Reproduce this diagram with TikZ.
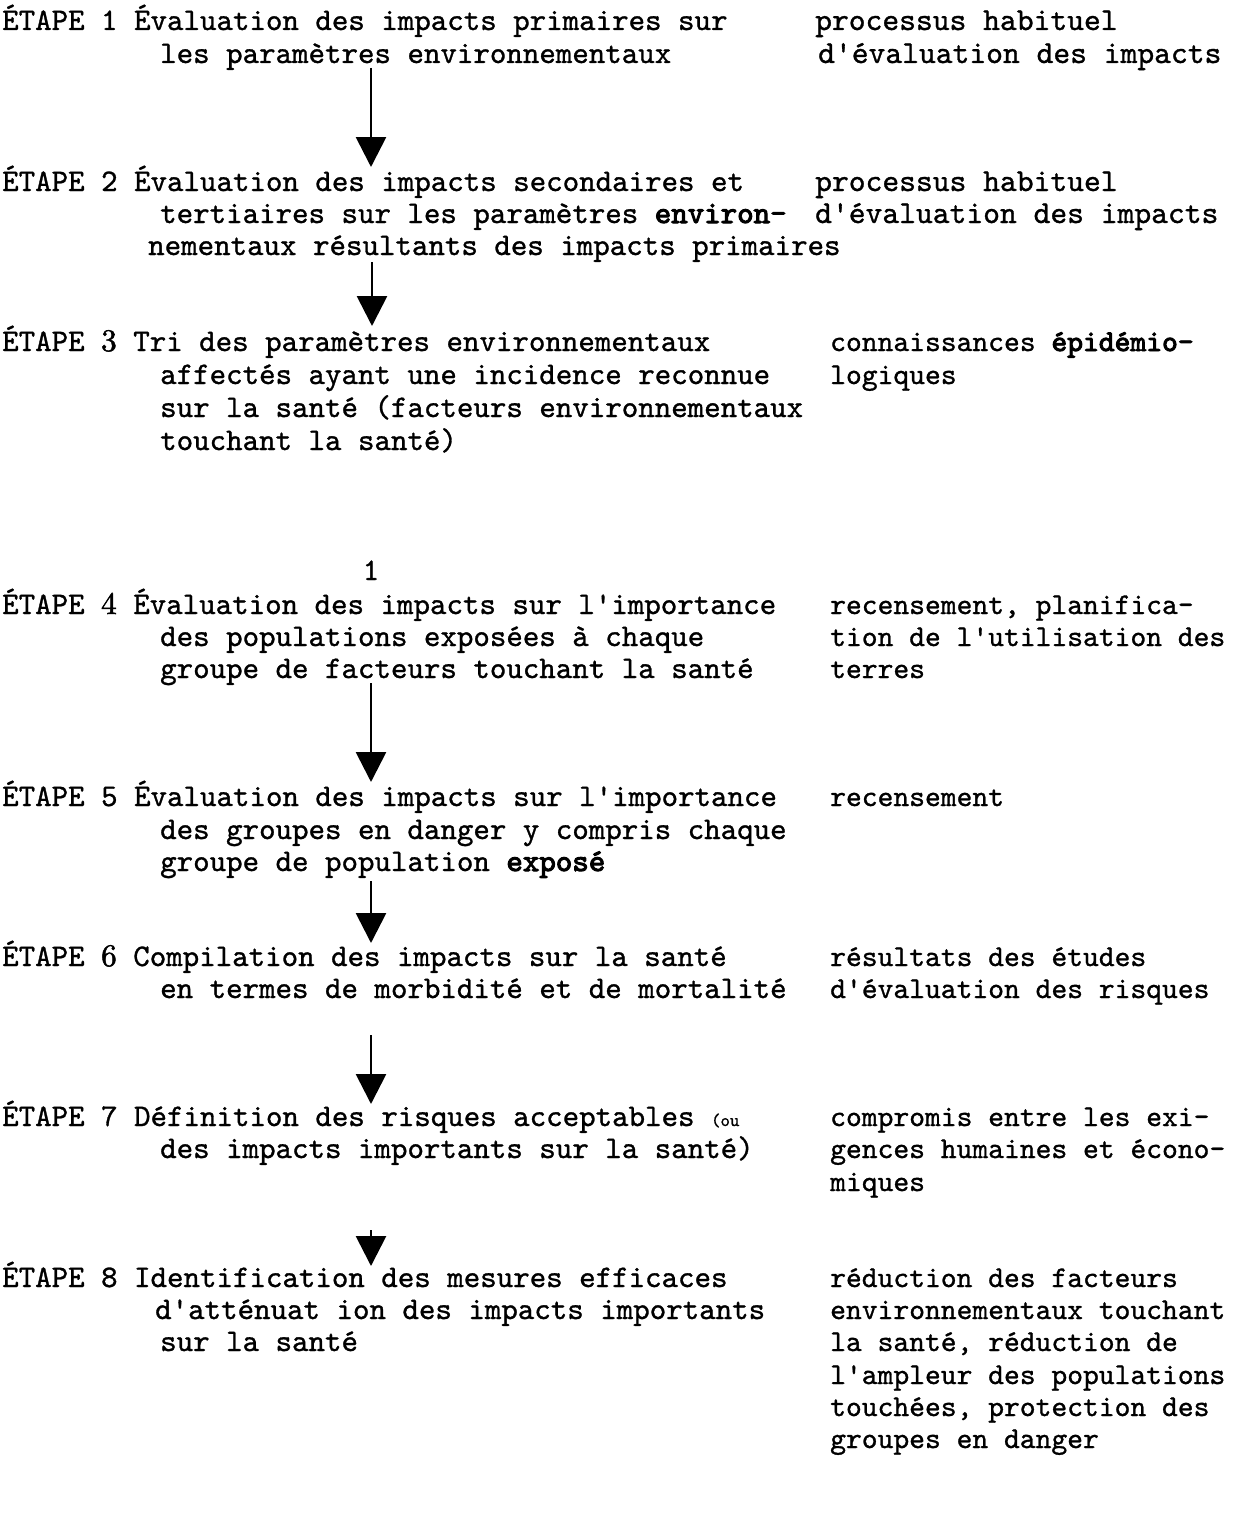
\documentclass[tikz,border=0pt]{standalone}
\usepackage{fontspec}
\usetikzlibrary{arrows.meta}
\newfontfamily\mytt{lmmono10-regular}[Extension=.otf, RawFeature={embolden=1.0}]
\newfontfamily\mybf{lmmono10-regular}[Extension=.otf, RawFeature={embolden=3.2}]
\newfontfamily\myrm{lmroman10-regular}[Extension=.otf, RawFeature={embolden=1.6}]
\tikzset{
  txt/.style={anchor=base west, inner sep=0pt, font=\mytt\fontsize{31.4}{38}\selectfont},
  rtxt/.style={anchor=base west, inner sep=0pt, font=\mytt\fontsize{32}{38}\selectfont},
  rtxtb/.style={anchor=base west, inner sep=0pt, font=\mytt\fontsize{30.1}{38}\selectfont},
  num/.style={anchor=base, inner sep=0pt, font=\mytt\fontsize{31.4}{38}\selectfont},
  flow/.style={line width=2.8pt, -{Triangle[length=30pt,width=30pt]}}
}
\newcommand\mytext[4]{\node[txt] (#1) at (#2,-#3) {#4};}
\newcommand\myright[4]{\node[rtxt] (#1) at (#2,-#3) {#4};}
\newcommand\myrightb[4]{\node[rtxtb] (#1) at (#2,-#3) {#4};}
\newcommand\bw[1]{{\mybf #1}}
\newcommand\dg[1]{{\myrm #1}}
\begin{document}
\begin{tikzpicture}[x=1pt,y=1pt]
\fill[white] (0,0) rectangle (1236,-1520);
\useasboundingbox (0,0) rectangle (1236,-1520);
% Step 1
\mytext{s1a}{2}{30}{ÉTAPE 1 Évaluation des impacts primaires sur}
\mytext{s1b}{160}{63}{les paramètres environnementaux}
\myright{r1a}{815}{30}{processus habituel}
\myright{r1b}{818}{63}{d'évaluation des impacts}
% Step 2
\mytext{s2a}{2}{191}{ÉTAPE 2 Évaluation des impacts secondaires et}
\mytext{s2b}{160}{223}{tertiaires sur les paramètres \bw{environ-}}
\mytext{s2c}{148}{255}{nementaux résultants des impacts primaires}
\myright{r2a}{815}{191}{processus habituel}
\myright{r2b}{815}{223}{d'évaluation des impacts}
% Step 3
\mytext{s3a}{2}{351}{ÉTAPE \dg{3} Tri des paramètres environnementaux}
\mytext{s3b}{160}{384}{affectés ayant une incidence reconnue}
\mytext{s3c}{160}{417}{sur la santé (facteurs environnementaux}
\mytext{s3d}{160}{450}{touchant la santé)}
\myrightb{r3a}{830}{351}{connaissances \bw{épidémio-}}
\myrightb{r3b}{830}{384}{logiques}
\node[num] (one) at (371,-580) {1};
% Step 4
\mytext{s4a}{2}{614}{ÉTAPE \dg{4} Évaluation des impacts sur l'importance}
\mytext{s4b}{160}{646}{des populations exposées à chaque}
\mytext{s4c}{160}{678}{groupe de facteurs touchant la santé}
\myrightb{r4a}{830}{614}{recensement, planifica-}
\myrightb{r4b}{830}{646}{tion de l'utilisation des}
\myrightb{r4c}{830}{678}{terres}
% Step 5
\mytext{s5a}{2}{806}{ÉTAPE 5 Évaluation des impacts sur l'importance}
\mytext{s5b}{160}{839}{des groupes en danger y compris chaque}
\mytext{s5c}{160}{871}{groupe de population \bw{exposé}}
\myrightb{r5a}{830}{806}{recensement}
% Step 6
\mytext{s6a}{2}{966}{ÉTAPE \dg{6} Compilation des impacts sur la santé}
\mytext{s6b}{160}{998}{en termes de morbidité et de mortalité}
\myrightb{r6a}{830}{966}{résultats des études}
\myrightb{r6b}{830}{998}{d'évaluation des risques}
% Step 7
\mytext{s7a}{2}{1126}{ÉTAPE 7 Définition des risques acceptables {\fontsize{18}{20}\selectfont (ou}}
\mytext{s7b}{160}{1158}{des impacts importants sur la santé)}
\myrightb{r7a}{830}{1126}{compromis entre les exi-}
\myrightb{r7b}{830}{1158}{gences humaines et écono-}
\myrightb{r7c}{830}{1191}{miques}
% Step 8
\mytext{s8a}{2}{1287}{ÉTAPE 8 Identification des mesures efficaces}
\mytext{s8b}{155}{1319}{d'atténuat ion des impacts importants}
\mytext{s8c}{160}{1351}{sur la santé}
\myrightb{r8a}{830}{1287}{réduction des facteurs}
\myrightb{r8b}{830}{1319}{environnementaux touchant}
\myrightb{r8c}{830}{1351}{la santé, réduction de}
\myrightb{r8d}{830}{1384}{l'ampleur des populations}
\myrightb{r8e}{830}{1416}{touchées, protection des}
\myrightb{r8f}{830}{1448}{groupes en danger}
% arrows
\coordinate (a1s) at (371,-68);  \coordinate (a1e) at (371,-167);
\coordinate (a2s) at (372,-262); \coordinate (a2e) at (372,-326);
\coordinate (a4s) at (371,-683); \coordinate (a4e) at (371,-782);
\coordinate (a5s) at (371,-881); \coordinate (a5e) at (371,-943);
\coordinate (a6s) at (371,-1035); \coordinate (a6e) at (371,-1104);
\coordinate (a7s) at (371,-1230); \coordinate (a7e) at (371,-1266);
\draw[flow] (a1s) -- (a1e);
\draw[flow] (a2s) -- (a2e);
\draw[flow] (a4s) -- (a4e);
\draw[flow] (a5s) -- (a5e);
\draw[flow] (a6s) -- (a6e);
\draw[flow] (a7s) -- (a7e);
\end{tikzpicture}
\end{document}
